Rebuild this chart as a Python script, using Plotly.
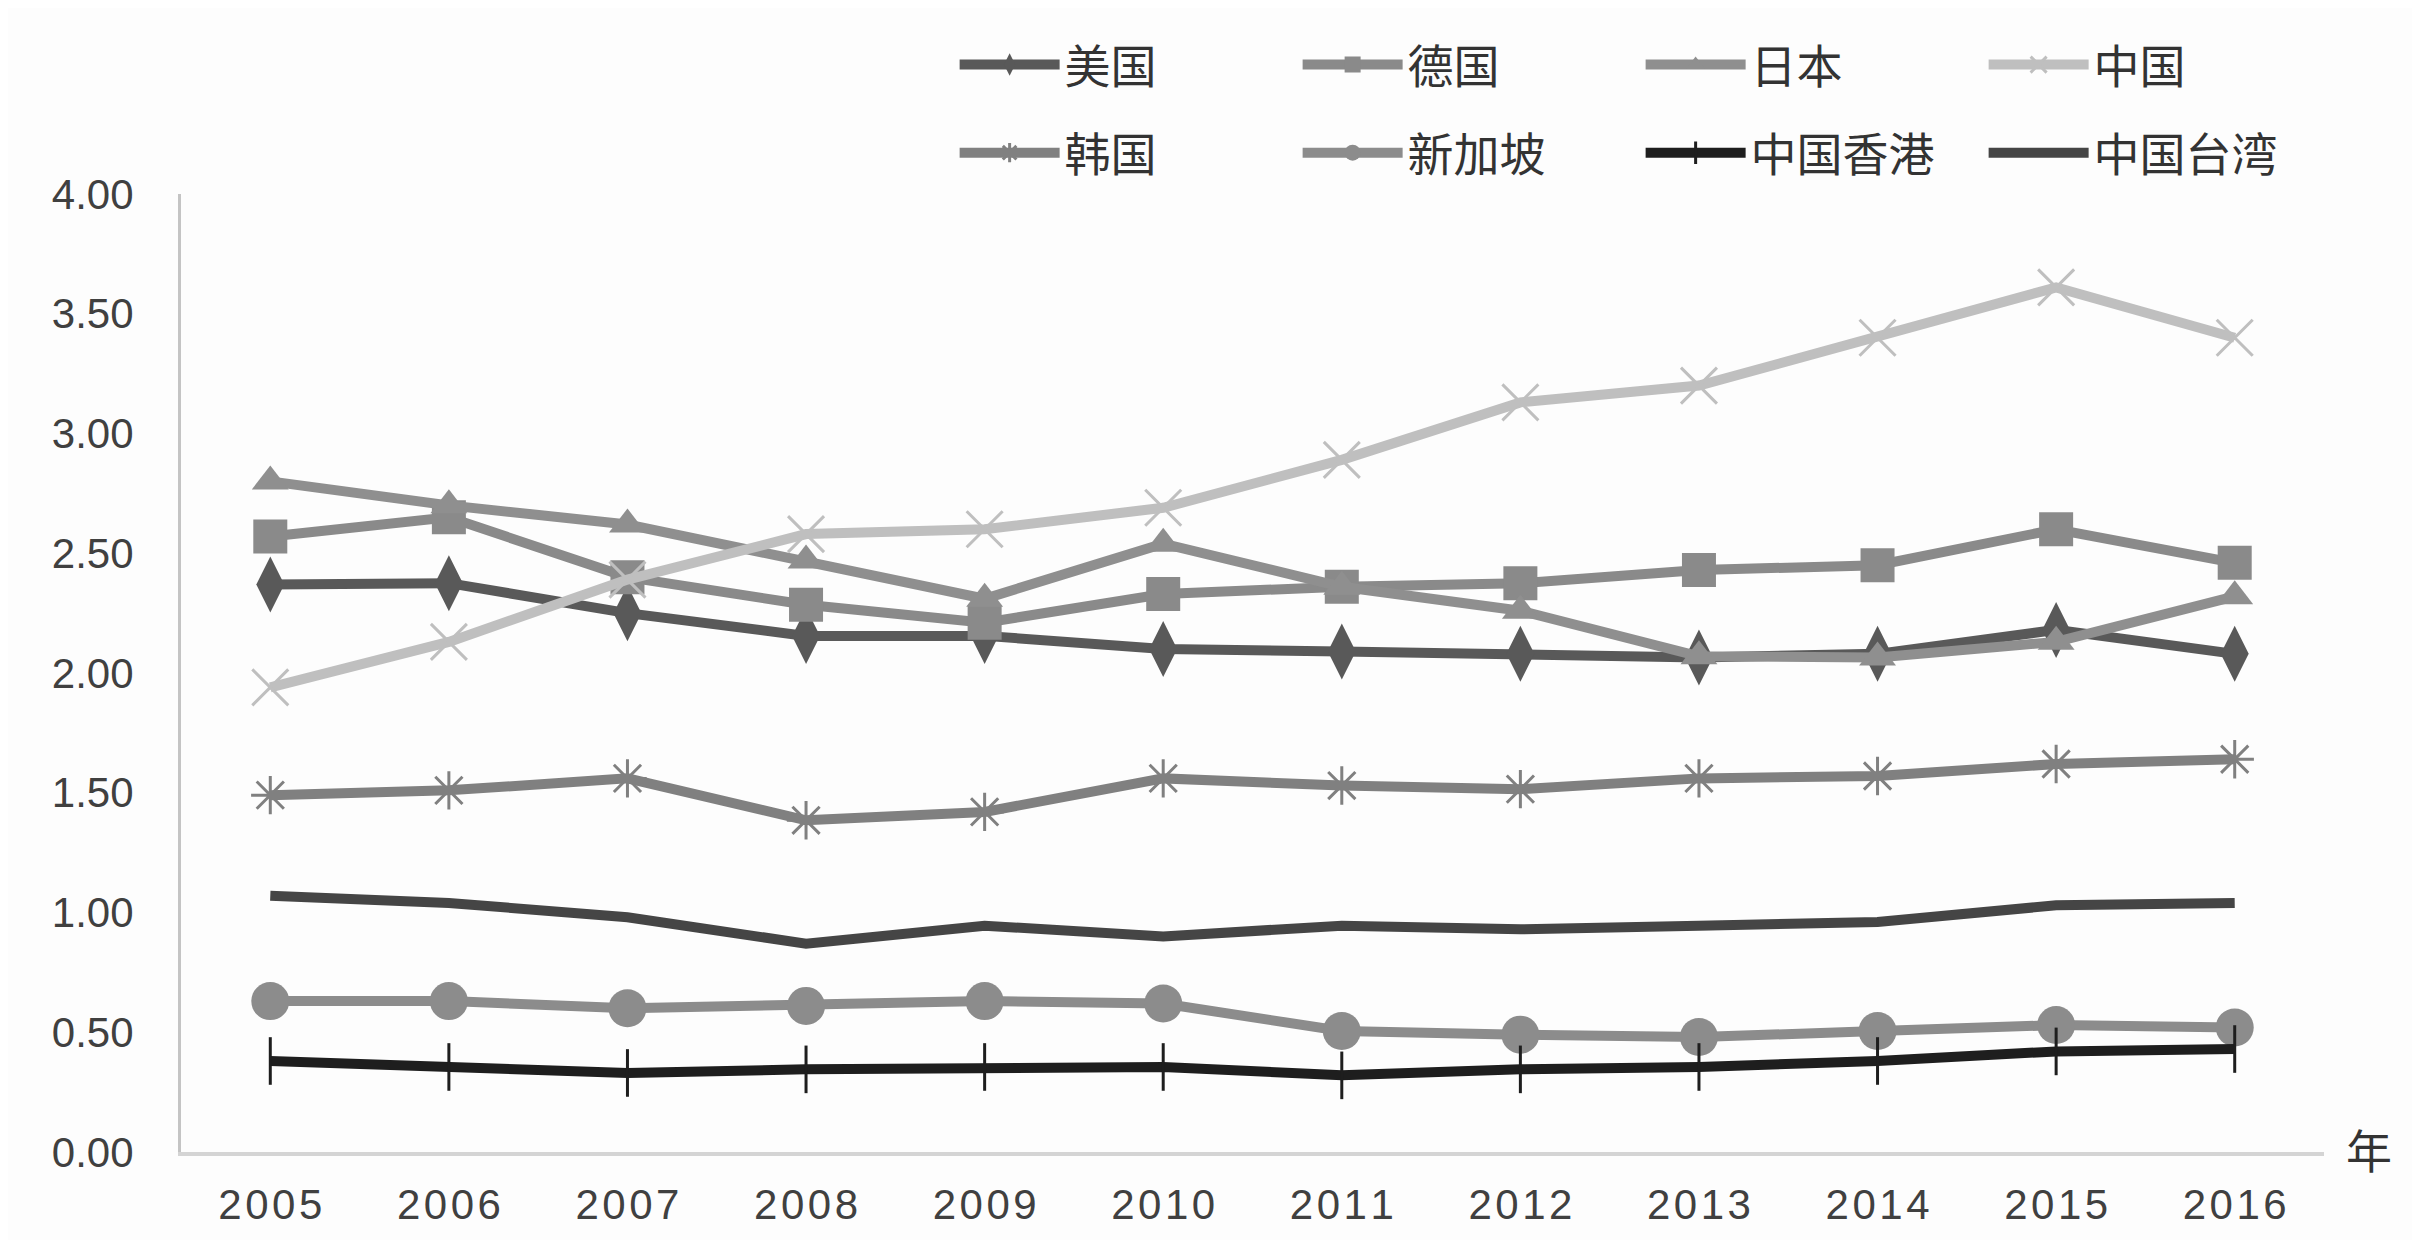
import plotly.graph_objects as go

# values
years = ["2005", "2006", "2007", "2008", "2009", "2010",
         "2011", "2012", "2013", "2014", "2015", "2016"]

usa = [2.37, 2.375, 2.25, 2.155, 2.155, 2.10, 2.09, 2.08, 2.065, 2.08, 2.18, 2.08]
germany = [2.57, 2.65, 2.40, 2.285, 2.21, 2.33, 2.36, 2.375, 2.43, 2.45, 2.60, 2.46]
japan = [2.80, 2.70, 2.62, 2.47, 2.31, 2.54, 2.36, 2.26, 2.07, 2.065, 2.13, 2.32]
china = [1.94, 2.13, 2.39, 2.58, 2.60, 2.69, 2.89, 3.13, 3.20, 3.40, 3.61, 3.40]
korea = [1.49, 1.51, 1.56, 1.385, 1.42, 1.56, 1.53, 1.515, 1.56, 1.57, 1.62, 1.64]
singapore = [0.63, 0.63, 0.60, 0.61, 0.63, 0.62, 0.505, 0.49, 0.48, 0.505, 0.53, 0.52]
hongkong = [0.38, 0.355, 0.33, 0.345, 0.355, 0.355, 0.32, 0.345, 0.355, 0.38, 0.42, 0.43]
taiwan = [1.07, 1.04, 0.98, 0.87, 0.945, 0.90, 0.945, 0.93, 0.945, 0.96, 1.03, 1.04]

names = ["美国", "德国", "日本", "中国", "韩国", "新加坡", "中国香港", "中国台湾"]

FONT = "Liberation Sans, Noto Sans CJK SC, sans-serif"

# (values, colour, marker symbol, marker size, legend group)
styles = [
    (usa, "#595959", "diamond-tall", 40, "legend"),
    (germany, "#8a8a8a", "square", 34, "legend"),
    (japan, "#8f8f8f", "triangle-up", 32, "legend"),
    (china, "#bfbfbf", "x-thin-open", 36, "legend"),
    (korea, "#808080", "asterisk-open", 32, "legend2"),
    (singapore, "#8c8c8c", "circle", 38, "legend2"),
    (hongkong, "#1e1e1e", "line-ns-open", 34, "legend2"),
    (taiwan, "#454545", None, 0, "legend2"),
]

fig = go.Figure()

for name, (vals, color, symbol, size, lg) in zip(names, styles):
    if symbol is None:
        fig.add_trace(go.Scatter(
            x=years, y=vals, name=name, mode="lines",
            line=dict(color=color, width=10), legend=lg,
        ))
        continue
    is_open = symbol.endswith("-open")
    fig.add_trace(go.Scatter(
        x=years, y=vals, name=name, mode="lines+markers",
        line=dict(color=color, width=10),
        marker=dict(
            symbol=symbol, size=size, color=color,
            line=dict(color=color, width=3 if is_open else 0),
        ),
        legend=lg,
    ))

legend_common = dict(
    orientation="h",
    xanchor="left", yanchor="middle",
    x=0.361,
    font=dict(family=FONT, size=46, color="#333333"),
    entrywidth=228, entrywidthmode="pixels",
    itemwidth=100,
    bgcolor="rgba(0,0,0,0)",
)

# page body has an 8px margin, so the figure is sized to fit inside it
fig.update_layout(
    width=2404, height=1232,
    paper_bgcolor="#fdfdfd", plot_bgcolor="#fdfdfd",
    margin=dict(l=173, r=88, t=186, b=88, autoexpand=False),
    font=dict(family=FONT, color="#404040"),
    legend=dict(legend_common, y=1.135),
    legend2=dict(legend_common, y=1.043),
)

fig.update_xaxes(
    type="category", range=[-0.5, 11.5],
    tickvals=years, ticktext=["\u200a".join(y) for y in years],
    showgrid=False, zeroline=False,
    showline=True, linecolor="#d4d4d4", linewidth=4,
    ticks="outside", ticklen=13, tickcolor="rgba(0,0,0,0)",
    tickfont=dict(family=FONT, size=42, color="#404040"),
)
fig.update_yaxes(
    range=[0, 4], dtick=0.5, tickformat=".2f",
    showgrid=False, zeroline=False,
    showline=True, linecolor="#c4c4c4", linewidth=3,
    ticks="outside", ticklen=36, tickcolor="rgba(0,0,0,0)",
    tickfont=dict(family=FONT, size=42, color="#404040"),
)

fig.add_annotation(
    text="年", xref="paper", yref="paper", x=1.0, y=0,
    xanchor="left", yanchor="middle", xshift=20, showarrow=False,
    font=dict(family=FONT, size=46, color="#333333"),
)

fig.write_html("out.html")
